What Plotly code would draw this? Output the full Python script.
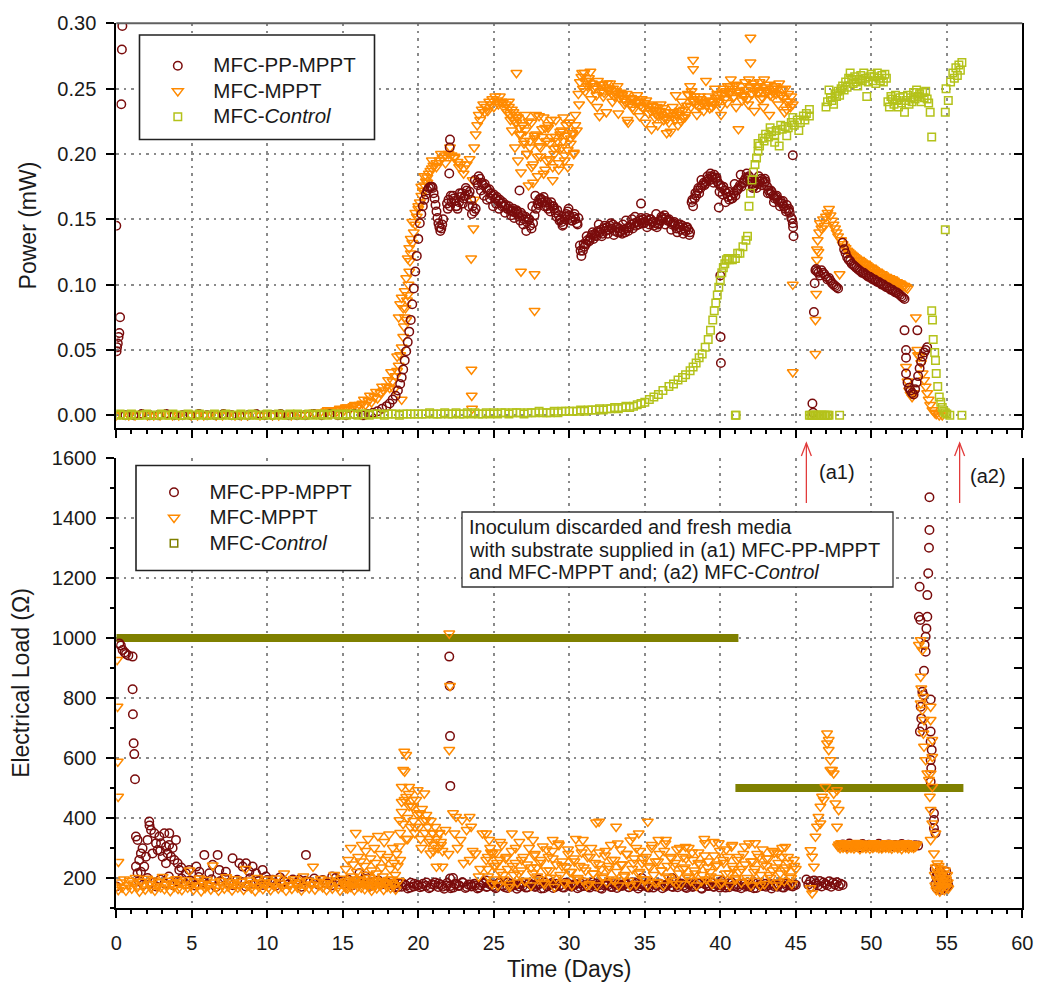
import numpy as np
import plotly.graph_objects as go

FONT = "Liberation Sans, Arial, sans-serif"
W, H = 1040, 985

def seg(t0, t1, vals):
    return list(np.linspace(t0, t1, len(vals)))

# ======================= TOP PANEL : Power (mW) =======================
# ---- MFC-PP-MPPT ----
pp_pow_t_a = [0.0, 0.02, 0.05, 0.10, 0.15, 0.20, 0.25, 0.33, 0.37, 0.40]
pp_pow_a = [0.145, 0.049, 0.052, 0.055, 0.060, 0.063, 0.075, 0.238, 0.280, 0.298]
pp_pow_span_b = (0.6, 16.3)
pp_pow_b = [0.000, 0.000, 0.001, 0.000, 0.000, 0.001, 0.000, 0.000, 0.000, 0.001,
            0.000, 0.000, 0.001, 0.000, 0.000, 0.000, 0.001, 0.000, 0.000, 0.001,
            0.000, 0.000, 0.000, 0.001, 0.000, 0.001, 0.000, 0.000, 0.001, 0.000]
pp_pow_t_c = [16.4, 16.7, 17.0, 17.3, 17.6, 17.9, 18.1, 18.3, 18.5, 18.65, 18.8, 18.9, 19.0, 19.1,
              19.2, 19.3, 19.4, 19.5, 19.6, 19.7, 19.8, 19.9, 20.0, 20.1, 20.2, 20.3, 20.4, 20.5,
              20.6, 20.7, 20.8, 20.9]
pp_pow_c = [0.000, 0.001, 0.002, 0.003, 0.005, 0.007, 0.009, 0.012, 0.015, 0.019, 0.024, 0.029,
            0.035, 0.042, 0.049, 0.056, 0.064, 0.073, 0.085, 0.097, 0.110, 0.122, 0.135, 0.147,
            0.154, 0.160, 0.165, 0.169, 0.172, 0.174, 0.175, 0.175]
pp_pow_span_d = (20.95, 21.65)
pp_pow_d = [0.174, 0.170, 0.166, 0.161, 0.156, 0.151, 0.147, 0.144, 0.141, 0.143, 0.146, 0.150]
pp_pow_span_f = (21.9, 30.6)
pp_pow_f = [0.162, 0.165, 0.160, 0.163, 0.168, 0.164, 0.160, 0.158, 0.163, 0.167,
            0.170, 0.166, 0.168, 0.172, 0.169, 0.171, 0.165, 0.160, 0.156, 0.158,
            0.178, 0.183, 0.181, 0.178, 0.176, 0.177, 0.174, 0.172, 0.173, 0.170,
            0.168, 0.169, 0.166, 0.167, 0.164, 0.165, 0.162, 0.163, 0.160, 0.161,
            0.158, 0.160, 0.157, 0.156, 0.158, 0.155, 0.157, 0.154, 0.152, 0.155,
            0.153, 0.150, 0.152, 0.148, 0.150, 0.145, 0.143, 0.147, 0.153, 0.158,
            0.162, 0.165, 0.166, 0.163, 0.167, 0.164, 0.160, 0.158, 0.161, 0.163,
            0.160, 0.158, 0.155, 0.157, 0.153, 0.150, 0.148, 0.146, 0.150, 0.154,
            0.156, 0.153, 0.151, 0.149, 0.152, 0.150, 0.147, 0.151]
pp_pow_span_f2 = (21.95, 30.55)
pp_pow_f2 = [0.158, 0.168, 0.166, 0.160, 0.170, 0.162, 0.174, 0.160, 0.154, 0.180,
             0.176, 0.172, 0.168, 0.165, 0.166, 0.160, 0.162, 0.158, 0.160, 0.155,
             0.158, 0.153, 0.151, 0.156, 0.149, 0.146, 0.141, 0.150, 0.160, 0.168,
             0.161, 0.165, 0.160, 0.163, 0.156, 0.160, 0.152, 0.149, 0.145, 0.152,
             0.158, 0.149, 0.154, 0.146]
pp_pow_span_g = (30.7, 38.0)
pp_pow_g = [0.130, 0.122, 0.126, 0.129, 0.131, 0.134, 0.133, 0.136, 0.138, 0.135,
            0.139, 0.137, 0.141, 0.140, 0.142, 0.139, 0.143, 0.141, 0.144, 0.142,
            0.145, 0.143, 0.146, 0.141, 0.144, 0.140, 0.143, 0.141, 0.139, 0.142,
            0.140, 0.143, 0.141, 0.144, 0.146, 0.143, 0.147, 0.145, 0.148, 0.146,
            0.149, 0.147, 0.150, 0.148, 0.151, 0.149, 0.146, 0.150, 0.148, 0.145,
            0.147, 0.144, 0.146, 0.149, 0.152, 0.150, 0.153, 0.151, 0.149, 0.150,
            0.148, 0.146, 0.147, 0.145, 0.143, 0.146, 0.144, 0.142, 0.145, 0.143,
            0.141, 0.144, 0.142, 0.140]
pp_pow_span_g2 = (30.75, 37.95)
pp_pow_g2 = [0.126, 0.131, 0.137, 0.134, 0.140, 0.138, 0.146, 0.137, 0.145, 0.139,
             0.147, 0.138, 0.144, 0.140, 0.146, 0.149, 0.144, 0.150, 0.152, 0.146,
             0.151, 0.147, 0.144, 0.150, 0.148, 0.154, 0.147, 0.151, 0.146, 0.149,
             0.142, 0.148, 0.140, 0.146, 0.139, 0.144, 0.138]
pp_pow_span_h = (38.1, 44.8)
pp_pow_h = [0.163, 0.160, 0.166, 0.168, 0.172, 0.170, 0.174, 0.176, 0.178, 0.177,
            0.179, 0.181, 0.180, 0.183, 0.182, 0.184, 0.181, 0.179, 0.177, 0.176,
            0.174, 0.175, 0.172, 0.170, 0.167, 0.165, 0.168, 0.166, 0.170, 0.168,
            0.172, 0.174, 0.176, 0.175, 0.178, 0.180, 0.182, 0.181, 0.183, 0.180,
            0.177, 0.175, 0.176, 0.174, 0.177, 0.179, 0.181, 0.180, 0.178, 0.179,
            0.175, 0.172, 0.170, 0.171, 0.168, 0.166, 0.167, 0.165, 0.163, 0.164,
            0.162, 0.160, 0.158, 0.161, 0.157, 0.155, 0.151, 0.147]
pp_pow_span_h2 = (38.15, 44.75)
pp_pow_h2 = [0.165, 0.170, 0.174, 0.180, 0.176, 0.183, 0.185, 0.178, 0.182, 0.171,
             0.169, 0.163, 0.171, 0.166, 0.177, 0.173, 0.184, 0.178, 0.185, 0.180,
             0.174, 0.178, 0.183, 0.176, 0.181, 0.170, 0.172, 0.163, 0.168, 0.160,
             0.164, 0.156, 0.158, 0.150]
pp_pow_t_e = [22.05, 22.08, 22.10, 26.7, 34.75, 39.9, 40.0, 40.02, 40.04, 44.8, 44.82, 44.85]
pp_pow_e = [0.185, 0.205, 0.211, 0.172, 0.162, 0.159, 0.107, 0.060, 0.040, 0.199, 0.144, 0.137]
pp_pow_t_i = [46.1, 46.15, 46.2, 46.25, 46.3, 46.35, 46.4, 46.5, 46.6, 46.7, 46.8, 46.9, 47.0,
              47.1, 47.2, 47.3, 47.4, 47.5, 47.6, 47.7, 47.8]
pp_pow_i = [0.009, 0.002, 0.079, 0.101, 0.111, 0.112, 0.110, 0.109, 0.107, 0.111, 0.109, 0.108,
            0.106, 0.104, 0.105, 0.103, 0.101, 0.100, 0.099, 0.098, 0.097]
pp_pow_span_j = (48.1, 52.2)
pp_pow_j = [0.132, 0.127, 0.124, 0.121, 0.119, 0.118, 0.116, 0.115, 0.114, 0.113,
            0.112, 0.111, 0.110, 0.109, 0.109, 0.108, 0.107, 0.106, 0.106, 0.105,
            0.104, 0.104, 0.103, 0.102, 0.102, 0.101, 0.100, 0.100, 0.099, 0.098,
            0.098, 0.097, 0.096, 0.096, 0.095, 0.094, 0.094, 0.093, 0.092, 0.091,
            0.090, 0.089]
pp_pow_t_k = [52.2, 52.3, 52.3, 52.3, 52.4, 52.5, 52.6, 52.7, 52.8, 52.9, 53.0, 53.05, 53.1,
              53.2, 53.3, 53.4, 53.5, 53.6, 53.7]
pp_pow_k = [0.065, 0.050, 0.044, 0.032, 0.025, 0.021, 0.019, 0.017, 0.016, 0.020, 0.025, 0.065,
            0.030, 0.036, 0.041, 0.045, 0.048, 0.050, 0.052]

# ---- MFC-MPPT ----
mp_pow_span_a = (0.0, 12.0)
mp_pow_a = [0.000, 0.001, 0.000, 0.000, 0.001, 0.000, 0.000, 0.000, 0.001, 0.000,
            0.000, 0.001, 0.000, 0.000, 0.000, 0.001, 0.000, 0.000, 0.001, 0.000,
            0.000, 0.000, 0.001, 0.000, 0.001, 0.000, 0.000, 0.001, 0.000, 0.001]
mp_pow_t_b = [12.3, 12.7, 13.1, 13.5, 13.9, 14.2, 14.5, 14.8, 15.1, 15.3, 15.5, 15.7, 15.9, 16.1,
              16.3, 16.5, 16.7, 16.9, 17.1, 17.3, 17.5, 17.7, 17.9, 18.1, 18.3, 18.5, 18.6, 18.7,
              18.8, 18.9, 19.0, 19.05, 19.1, 19.15, 19.2, 19.25, 19.3, 19.35, 19.4, 19.45, 19.5,
              19.6, 19.7, 19.8, 19.9, 20.0, 20.1, 20.2, 20.3, 20.4, 20.5, 20.6, 20.7, 20.8, 20.9,
              21.0, 21.2, 21.4, 21.6, 21.8, 22.0, 22.2, 22.4, 22.6, 22.8, 23.0, 23.2, 23.4]
mp_pow_b = [0.001, 0.001, 0.002, 0.002, 0.003, 0.003, 0.004, 0.005, 0.004, 0.006, 0.005, 0.007,
            0.006, 0.008, 0.009, 0.008, 0.011, 0.010, 0.014, 0.013, 0.017, 0.019, 0.022, 0.021,
            0.026, 0.030, 0.034, 0.038, 0.046, 0.052, 0.060, 0.068, 0.075, 0.082, 0.073, 0.088,
            0.092, 0.100, 0.110, 0.118, 0.124, 0.132, 0.140, 0.146, 0.152, 0.158, 0.163, 0.168,
            0.172, 0.176, 0.179, 0.182, 0.185, 0.187, 0.189, 0.191, 0.193, 0.195, 0.197, 0.199,
            0.200, 0.199, 0.197, 0.194, 0.192, 0.189, 0.192, 0.196]
mp_pow_t_b2 = [14.0, 14.6, 15.2, 15.8, 16.4, 16.8, 17.2, 17.6, 18.0, 18.2, 18.4, 18.6, 18.7, 18.8,
               18.9, 19.0, 19.1, 19.2, 19.3, 19.4, 19.5, 19.6, 19.8, 20.0, 20.2, 20.4, 20.6, 20.9,
               21.2, 21.5, 21.8, 22.1, 22.4, 22.7, 23.0]
mp_pow_b2 = [0.004, 0.003, 0.006, 0.008, 0.012, 0.015, 0.018, 0.022, 0.027, 0.033, 0.020, 0.045,
             0.075, 0.085, 0.090, 0.082, 0.095, 0.105, 0.120, 0.128, 0.135, 0.148, 0.155, 0.160,
             0.175, 0.183, 0.178, 0.195, 0.190, 0.200, 0.193, 0.205, 0.198, 0.190, 0.185]
mp_pow_t_c = [18.9, 23.5, 23.52, 23.54, 23.56, 23.65, 23.7, 26.5, 26.8, 27.7, 27.7, 38.2, 38.2,
              42.0, 42.0, 44.8, 44.8, 47.9]
mp_pow_c = [0.012, 0.120, 0.035, 0.015, 0.005, 0.143, 0.165, 0.262, 0.110, 0.108, 0.080, 0.272,
            0.265, 0.289, 0.270, 0.100, 0.033, 0.108]
mp_pow_span_d = (23.6, 30.5)
mp_pow_d = [0.180, 0.205, 0.215, 0.222, 0.230, 0.226, 0.234, 0.238, 0.232, 0.236,
            0.233, 0.240, 0.238, 0.242, 0.236, 0.244, 0.241, 0.238, 0.244, 0.240,
            0.239, 0.235, 0.238, 0.232, 0.236, 0.230, 0.234, 0.226, 0.230, 0.224,
            0.228, 0.220, 0.215, 0.222, 0.210, 0.218, 0.200, 0.225, 0.205, 0.190,
            0.178, 0.212, 0.215, 0.198, 0.229, 0.205, 0.213, 0.185, 0.220, 0.195,
            0.220, 0.208, 0.226, 0.190, 0.200, 0.213, 0.205, 0.188, 0.215, 0.218,
            0.210, 0.195, 0.222, 0.203, 0.224, 0.212, 0.215, 0.200, 0.222, 0.218]
mp_pow_span_d2 = (26.0, 30.4)
mp_pow_d2 = [0.240, 0.226, 0.218, 0.232, 0.205, 0.228, 0.195, 0.215, 0.186, 0.222,
             0.208, 0.230, 0.200, 0.176, 0.210, 0.224, 0.192, 0.214, 0.230, 0.183,
             0.206, 0.198, 0.219, 0.228, 0.188, 0.210, 0.222, 0.196, 0.213, 0.180,
             0.204, 0.226, 0.210, 0.193, 0.217, 0.205, 0.228, 0.199, 0.214, 0.190,
             0.224, 0.208, 0.216, 0.201, 0.230]
mp_pow_span_e = (30.6, 44.8)
mp_pow_e = [0.246, 0.255, 0.259, 0.250, 0.262, 0.256, 0.252, 0.258, 0.263, 0.254,
            0.250, 0.252, 0.245, 0.256, 0.229, 0.248, 0.253, 0.247, 0.251, 0.254,
            0.249, 0.254, 0.246, 0.250, 0.244, 0.248, 0.252, 0.243, 0.247, 0.245,
            0.242, 0.240, 0.246, 0.224, 0.238, 0.243, 0.236, 0.242, 0.239, 0.245,
            0.240, 0.237, 0.242, 0.235, 0.239, 0.241, 0.236, 0.238, 0.233, 0.237,
            0.234, 0.231, 0.236, 0.229, 0.233, 0.230, 0.235, 0.228, 0.232, 0.227,
            0.224, 0.217, 0.229, 0.232, 0.226, 0.230, 0.222, 0.233, 0.225, 0.228,
            0.234, 0.230, 0.237, 0.245, 0.252, 0.248, 0.240, 0.244, 0.238, 0.242,
            0.236, 0.242, 0.239, 0.233, 0.240, 0.237, 0.244, 0.235, 0.241, 0.240,
            0.238, 0.243, 0.246, 0.240, 0.236, 0.245, 0.250, 0.242, 0.248, 0.252,
            0.246, 0.257, 0.250, 0.244, 0.253, 0.248, 0.219, 0.247, 0.252, 0.245,
            0.244, 0.249, 0.242, 0.257, 0.251, 0.246, 0.254, 0.248, 0.252, 0.247,
            0.255, 0.249, 0.243, 0.257, 0.251, 0.247, 0.253, 0.245, 0.250, 0.247,
            0.252, 0.246, 0.250, 0.254, 0.245, 0.249, 0.243, 0.250, 0.234, 0.246,
            0.240, 0.244, 0.238]
mp_pow_span_e2 = (30.65, 44.65)
mp_pow_e2 = [0.238, 0.262, 0.248, 0.256, 0.242, 0.250, 0.236, 0.253, 0.244, 0.232,
             0.249, 0.240, 0.246, 0.231, 0.244, 0.238, 0.226, 0.242, 0.234, 0.240,
             0.229, 0.236, 0.224, 0.231, 0.219, 0.228, 0.222, 0.238, 0.226, 0.216,
             0.232, 0.236, 0.245, 0.231, 0.240, 0.228, 0.246, 0.236, 0.241, 0.230,
             0.244, 0.238, 0.256, 0.240, 0.236, 0.250, 0.243, 0.230, 0.247, 0.239,
             0.252, 0.243, 0.236, 0.248, 0.241, 0.255, 0.238, 0.246, 0.233, 0.251,
             0.242, 0.236, 0.248, 0.230, 0.244, 0.252, 0.238, 0.245, 0.232, 0.240, 0.236]
mp_pow_t_f = [46.3, 46.3, 46.35, 46.4, 46.4, 46.45, 46.5, 46.55, 46.6, 46.7, 46.8, 46.9, 47.0,
              47.1, 47.2, 47.3, 47.4, 47.5, 47.6, 47.7, 47.8, 48.0, 48.1]
mp_pow_f = [0.047, 0.073, 0.093, 0.119, 0.127, 0.134, 0.125, 0.140, 0.147, 0.143, 0.150, 0.145,
            0.152, 0.155, 0.158, 0.153, 0.149, 0.146, 0.143, 0.140, 0.137, 0.134, 0.131]
mp_pow_span_g = (48.2, 52.4)
mp_pow_g = [0.129, 0.128, 0.126, 0.125, 0.124, 0.123, 0.122, 0.121, 0.120, 0.119,
            0.119, 0.118, 0.117, 0.116, 0.116, 0.115, 0.114, 0.113, 0.113, 0.112,
            0.111, 0.110, 0.110, 0.109, 0.108, 0.108, 0.107, 0.106, 0.106, 0.105,
            0.105, 0.104, 0.104, 0.103, 0.102, 0.102, 0.101, 0.101, 0.100, 0.099,
            0.099, 0.098, 0.097]
mp_pow_t_h = [52.3, 52.4, 52.5, 52.6, 52.7, 52.8, 52.95, 53.05, 53.1, 53.2, 53.3, 53.4, 53.5,
              53.6, 53.7, 53.8, 53.9, 54.05, 54.2, 54.3, 54.5, 54.7]
mp_pow_h = [0.037, 0.026, 0.019, 0.016, 0.014, 0.017, 0.075, 0.050, 0.046, 0.045, 0.040, 0.032,
            0.027, 0.022, 0.017, 0.012, 0.008, 0.004, 0.002, 0.001, 0.000, 0.000]

# ---- MFC-Control ----
ct_pow_span_a = (0.0, 35.0)
ct_pow_a = [0.000, 0.001, 0.000, 0.000, 0.001, 0.000, 0.000, 0.000, 0.001, 0.000,
            0.000, 0.000, 0.001, 0.000, 0.000, 0.001, 0.000, 0.000, 0.000, 0.001,
            0.000, 0.000, 0.001, 0.000, 0.000, 0.000, 0.001, 0.000, 0.000, 0.001,
            0.000, 0.000, 0.000, 0.001, 0.000, 0.000, 0.001, 0.000, 0.000, 0.000,
            0.001, 0.000, 0.000, 0.001, 0.000, 0.000, 0.001, 0.000, 0.001, 0.000,
            0.000, 0.001, 0.000, 0.001, 0.000, 0.001, 0.000, 0.001, 0.001, 0.000,
            0.001, 0.000, 0.001, 0.001, 0.000, 0.001, 0.001, 0.000, 0.001, 0.001,
            0.001, 0.000, 0.001, 0.001, 0.001, 0.000, 0.001, 0.001, 0.001, 0.001,
            0.001, 0.001, 0.001, 0.002, 0.001, 0.001, 0.001, 0.002, 0.001, 0.001,
            0.002, 0.001, 0.001, 0.002, 0.001, 0.002, 0.001, 0.001, 0.002, 0.001,
            0.002, 0.001, 0.002, 0.002, 0.001, 0.002, 0.002, 0.002, 0.001, 0.002,
            0.002, 0.002, 0.003, 0.002, 0.002, 0.002, 0.003, 0.002, 0.003, 0.003,
            0.003, 0.003, 0.003, 0.004, 0.003, 0.004, 0.004, 0.004, 0.005, 0.004,
            0.005, 0.005, 0.006, 0.005, 0.006, 0.007, 0.006, 0.007, 0.008, 0.009,
            0.010]
ct_pow_t_b = [35.3, 35.6, 35.9, 36.2, 36.6, 36.9, 37.2, 37.5, 37.7, 38.0, 38.2, 38.4, 38.6, 38.8,
              39.0, 39.2, 39.35, 39.5, 39.6, 39.7, 39.8, 39.9, 40.0, 40.1, 40.2, 40.3, 40.4, 40.5,
              40.6, 40.8, 41.0, 41.15, 41.3, 41.5, 41.7, 41.8]
ct_pow_b = [0.012, 0.014, 0.016, 0.019, 0.022, 0.024, 0.027, 0.029, 0.031, 0.034, 0.037, 0.040,
            0.044, 0.047, 0.052, 0.058, 0.065, 0.073, 0.080, 0.086, 0.092, 0.098, 0.103, 0.109,
            0.113, 0.116, 0.119, 0.120, 0.119, 0.119, 0.120, 0.124, 0.124, 0.129, 0.134, 0.137]
ct_pow_t_c = [41.0, 41.05, 41.9, 42.0, 42.1, 42.2, 42.3, 42.4, 42.5, 42.6, 42.8, 43.0, 43.2, 43.4,
              43.6, 43.7, 43.9, 44.1, 44.3, 44.5, 44.7, 44.9, 45.1, 45.3, 45.5, 45.7, 45.9,
              42.5, 42.9, 43.3, 43.6, 44.0, 44.4, 44.8, 45.2, 45.6, 45.9]
ct_pow_c = [0.000, 0.000, 0.160, 0.170, 0.180, 0.186, 0.192, 0.197, 0.202, 0.206, 0.212, 0.215,
            0.213, 0.217, 0.214, 0.218, 0.206, 0.219, 0.221, 0.220, 0.224, 0.222, 0.226, 0.224,
            0.229, 0.231, 0.234,
            0.208, 0.210, 0.220, 0.209, 0.222, 0.214, 0.228, 0.218, 0.226, 0.229]
ct_pow_t_d = [45.9, 46.0, 46.1, 46.2, 46.3, 46.4, 46.5, 46.6, 46.7, 46.8, 46.9, 47.0, 47.1, 47.2, 47.9]
ct_pow_d = [0.000, 0.000, 0.000, 0.000, 0.000, 0.000, 0.000, 0.000, 0.000, 0.000, 0.000, 0.000,
            0.000, 0.000, 0.000]
ct_pow_span_e = (47.0, 51.0)
ct_pow_e = [0.236, 0.240, 0.249, 0.243, 0.241, 0.238, 0.246, 0.244, 0.248, 0.245,
            0.250, 0.252, 0.249, 0.255, 0.251, 0.258, 0.262, 0.257, 0.254, 0.259,
            0.255, 0.252, 0.257, 0.260, 0.256, 0.262, 0.258, 0.244, 0.255, 0.259,
            0.261, 0.256, 0.259, 0.254, 0.262, 0.258, 0.256, 0.260, 0.255, 0.261,
            0.258]
ct_pow_span_f = (51.1, 54.0)
ct_pow_f = [0.240, 0.236, 0.244, 0.242, 0.238, 0.245, 0.241, 0.236, 0.243, 0.239,
            0.244, 0.232, 0.241, 0.245, 0.238, 0.243, 0.240, 0.247, 0.242, 0.249,
            0.244, 0.246, 0.240, 0.247, 0.243, 0.248, 0.242, 0.239, 0.232, 0.213]
ct_pow_t_g = [54.0, 54.05, 54.1, 54.2, 54.25, 54.3, 54.4, 54.5, 54.6, 54.7, 54.8, 54.9, 55.0,
              55.2, 56.0, 54.9, 54.9, 54.95, 55.1, 55.25, 55.4, 55.5, 55.6, 55.7, 55.8, 55.9, 56.0]
ct_pow_g = [0.080, 0.073, 0.058, 0.048, 0.042, 0.032, 0.022, 0.014, 0.010, 0.006, 0.003, 0.002,
            0.001, 0.000, 0.000, 0.142, 0.232, 0.250, 0.241, 0.255, 0.262, 0.258, 0.266, 0.260,
            0.268, 0.264, 0.270]

# ======================= BOTTOM PANEL : Electrical Load (Ohm) =======================
# ---- MFC-Control (constant loads) ----
ct_load_start = [0.0, 41.0]
ct_load_end = [41.2, 56.1]
ct_load_val = [1000, 500]

# ---- MFC-PP-MPPT ----
pp_load_t_a = [0.0, 0.2, 0.3, 0.42, 0.55, 0.64, 0.8, 1.08, 1.08, 1.1, 1.15, 1.19, 1.24]
pp_load_a = [172, 982, 975, 960, 952, 947, 942, 938, 829, 746, 649, 613, 529]
pp_load_t_b = [1.3, 1.41, 1.74, 1.52, 1.85, 2.18, 2.3, 2.4, 2.63, 2.85, 3.29, 3.51, 3.73, 3.95,
               3.84, 3.29, 4.17, 4.61, 1.63, 1.96, 2.07, 2.52, 2.74, 2.96, 3.07, 3.4, 3.62, 3.18,
               4.06, 1.3, 1.41, 1.63, 2.2, 2.9, 3.5, 4.3]
pp_load_b = [338, 327, 299, 260, 238, 388, 360, 282, 316, 338, 304, 349, 300, 327, 260, 249, 227,
             216, 282, 271, 327, 349, 293, 316, 271, 282, 271, 349, 249, 238, 216, 221, 375, 290,
             310, 235]
pp_load_t_c = [4.83, 5.3, 5.5, 5.83, 6.16, 6.38, 6.71, 6.82, 7.26, 7.7, 8.15, 8.37, 8.59, 8.81,
               9.03, 9.25, 9.69, 9.91, 10.35, 12.12, 12.56, 14.3, 16.1, 16.5]
pp_load_c = [227, 238, 221, 277, 216, 244, 277, 227, 221, 266, 249, 238, 249, 221, 238, 216, 227,
             205, 194, 194, 277, 205, 216, 205]
pp_load_span_d = (1.5, 18.2)
pp_load_d = [190, 178, 200, 185, 172, 195, 182, 205, 176, 188,
             198, 180, 192, 175, 203, 186, 179, 196, 170, 189,
             201, 183, 176, 194, 187, 172, 199, 181, 190, 177,
             193, 185, 174, 202, 188, 179, 195, 183, 171, 191,
             186, 198, 178, 193, 182, 175, 200, 188, 180, 194,
             176, 190, 184, 197, 173, 187, 192, 179, 185, 181]
pp_load_span_e = (18.3, 45.0)
pp_load_e = [175, 168, 182, 171, 178, 165, 184, 172, 176, 169,
             181, 174, 166, 179, 185, 170, 177, 164, 183, 173,
             168, 180, 175, 186, 167, 178, 172, 181, 165, 176,
             184, 170, 179, 173, 166, 182, 175, 169, 185, 171,
             177, 164, 180, 174, 168, 183, 176, 170, 179, 165,
             186, 172, 178, 167, 181, 174, 169, 184, 176, 171,
             179, 166, 182, 173, 177, 168, 185, 172, 175, 164,
             180, 176, 170, 183, 167, 178, 174, 181, 169, 186,
             173, 165, 179, 175, 171, 184, 168, 177, 182, 166,
             176, 180, 172, 185, 169, 178, 174, 167, 183, 170,
             177, 181, 164, 179, 173, 186, 171, 176, 168, 182,
             175, 169, 184, 172, 178, 166, 180, 174, 170, 185,
             167, 177, 173, 181, 176, 165, 179, 171, 183, 168,
             175, 180, 172, 177]
pp_load_span_e2 = (18.4, 44.9)
pp_load_e2 = [178, 170, 183, 174, 168, 181, 176, 172, 185, 169,
              177, 182, 171, 175, 166, 180, 173, 184, 170, 178,
              175, 168, 182, 172, 179, 170, 185, 174, 167, 181,
              176, 171, 184, 169, 178, 173, 180, 166, 177, 183,
              171, 176, 168, 182, 174, 179, 170, 185, 172, 177,
              181, 167, 175, 184, 170, 178, 173, 180, 169, 176,
              183, 172, 177, 168, 181, 174, 179, 171, 185, 170,
              176, 182, 169, 178, 173, 184, 167, 180, 175, 171,
              179, 174, 168, 183, 176, 170, 181, 172, 178, 166,
              184, 175, 171, 180, 173, 177, 169, 182, 174, 178]
pp_load_t_f = [22.05, 22.08, 22.1, 22.12, 22.1, 22.3, 24.5, 28.0, 34.8, 36.8, 40.1]
pp_load_f = [938, 840, 673, 507, 198, 200, 192, 195, 200, 200, 190]
pp_load_span_g = (45.7, 48.1)
pp_load_g = [195, 178, 188, 170, 192, 182, 175, 190, 172, 185, 180, 176, 189, 171, 184, 178,
             186, 173, 181, 177]
pp_load_span_h = (47.9, 53.1)
pp_load_h = [308, 312, 304, 315, 306, 310, 302, 313, 307, 311, 305, 309, 314, 303, 308, 312,
             306, 310, 304, 313, 307, 311, 305, 309, 308]
pp_load_t_i = [53.85, 53.85, 53.82, 53.77, 53.2, 53.71, 53.15, 53.71, 53.25, 53.65, 53.6, 53.53,
               53.6, 53.49, 53.38, 53.45, 53.93, 53.27, 53.31, 53.38, 53.22, 53.93, 53.93, 54.0,
               53.93, 53.97, 53.93, 54.15, 54.15, 54.15, 54.25]
pp_load_i = [1469, 1360, 1301, 1216, 1171, 1143, 1071, 1071, 1060, 1032, 1004, 977, 954, 891,
             821, 810, 795, 771, 732, 704, 688, 688, 654, 627, 593, 566, 521, 416, 393, 366, 349]
pp_load_span_j = (54.2, 55.1)
pp_load_j = [230, 180, 205, 165, 215, 190, 172, 225, 185, 160, 200, 178, 210, 168, 195, 182,
             222, 170, 188, 175]

# ---- MFC-MPPT ----
mp_load_t_a = [0.05, 0.08, 0.10, 0.12, 0.14]
mp_load_a = [927, 771, 588, 471, 254]
mp_load_span_b = (0.0, 15.2)
mp_load_b = [172, 160, 185, 168, 195, 158, 176, 190, 165, 182, 200, 170, 155, 188, 175, 162, 198, 180, 166, 192,
             158, 174, 186, 169, 204, 163, 178, 191, 157, 183, 171, 196, 164, 187, 160, 179, 193, 168, 225, 175,
             161, 189, 173, 199, 156, 181, 167, 194, 176, 162, 242, 185, 170, 158, 190, 177, 165, 203, 172, 186,
             159, 180, 196, 168, 175, 188, 161, 230, 174, 192, 166, 183, 157, 200, 171, 185, 163, 178, 195, 169,
             160, 187, 174, 199, 165, 182, 171, 215, 158, 190, 176, 164, 196, 181, 168, 186, 159, 205, 173, 191,
             166, 179, 238, 162, 188, 175, 197, 169, 183, 160, 192, 177, 165, 210, 186, 171, 158, 198, 180, 167]
mp_load_span_c = (15.2, 18.8)
mp_load_c = [230, 190, 260, 175, 300, 205, 245, 185, 350, 220, 270, 195, 255, 310, 180, 240, 290, 210, 330, 200,
             265, 225, 175, 300, 250, 215, 340, 190, 280, 235, 205, 320, 260, 185, 270, 345, 230, 195, 300, 250,
             210, 280, 240, 190, 260]
mp_load_span_c2 = (15.2, 18.5)
mp_load_c2 = [175, 165, 190, 170, 185, 160, 195, 172, 182, 168, 190, 163, 178, 187, 170, 158, 192, 176, 166, 184,
              174, 189, 161, 180, 171, 194, 167, 183, 176, 162]
mp_load_t_d = [18.75, 18.75, 18.9, 19.07, 19.1, 19.2, 19.4, 19.6, 19.96, 20.1, 20.4, 20.5, 20.95, 21.4,
               21.8, 22.5, 22.9, 23.4, 23.8, 24.25, 24.7, 25.4, 18.9, 19.0, 19.2, 19.4, 19.6, 20.1,
               20.8, 21.2, 21.6, 22.3, 22.4, 22.8, 23.2, 23.5, 23.4, 24.0, 24.5, 24.9, 22.05, 22.05,
               22.1, 19.3, 19.8, 20.2, 20.7, 21.0, 21.5, 22.0, 22.6, 23.0, 23.6, 24.1, 24.6, 25.1]
mp_load_d = [393, 305, 504, 621, 555, 470, 504, 438, 493, 416, 482, 393, 349, 349, 360, 404, 393, 404,
             282, 349, 327, 260, 454, 560, 610, 440, 460, 416, 282, 238, 238, 416, 349, 327, 360, 371,
             260, 205, 349, 282, 1015, 627, 840, 330, 370, 300, 320, 290, 310, 280, 300, 250, 290, 230,
             270, 240]
mp_load_span_d2 = (18.8, 21.6)
mp_load_d2 = [350, 420, 380, 460, 330, 400, 480, 370, 440, 390, 350, 460, 410, 370, 330, 430, 390, 350,
              410, 370, 330, 390, 350, 310, 370, 330, 300, 350, 320, 290]
mp_load_span_e = (24.5, 45.0)
mp_load_e = [260, 205, 300, 180, 240, 285, 175, 220, 310, 195, 265, 230, 170, 290, 210, 250, 185, 320, 225, 270,
             190, 245, 300, 175, 215, 280, 235, 195, 260, 305, 180, 225, 270, 200, 290, 170, 245, 315, 210, 255,
             185, 235, 295, 220, 175, 265, 330, 200, 240, 285, 190, 225, 270, 180, 300, 215, 250, 175, 285, 230,
             205, 275, 185, 240, 310, 195, 260, 220, 175, 295, 245, 205, 280, 190, 325, 230, 265, 180, 215, 290,
             250, 195, 270, 175, 235, 300, 210, 255, 185, 280, 225, 175, 315, 240, 200, 265, 190, 250, 295, 215,
             180, 270, 235, 205, 300, 190, 260, 225, 175, 285, 245, 210, 330, 195, 255, 220, 180, 275, 240, 200,
             290, 185, 250, 215, 270, 175, 305, 230, 195, 260, 220, 185, 280, 245, 200, 315, 175, 255, 230, 190,
             270, 210, 295, 180, 240, 265, 200, 225, 285, 175, 250, 215, 300, 190, 235, 270, 205, 180, 260, 230]
mp_load_span_e2 = (24.6, 44.9)
mp_load_e2 = [230, 285, 195, 250, 320, 210, 270, 180, 240, 300,
              215, 260, 190, 345, 235, 275, 205, 250, 185, 295,
              225, 265, 200, 310, 240, 180, 280, 220, 255, 195,
              300, 235, 175, 270, 215, 385, 245, 200, 290, 230,
              260, 190, 315, 245, 210, 280, 175, 250, 300, 220,
              265, 195, 240, 310, 185, 255, 225, 290, 205, 270,
              240, 180, 300, 230, 265, 200, 285, 215, 250, 190,
              275, 235, 205, 320, 245, 180, 260, 295, 215, 240,
              200, 270, 230, 305, 190, 255, 220, 280, 175, 245,
              265, 210, 290, 235, 185, 270, 225, 250, 200, 240]
mp_load_t_f = [26.2, 27.6, 28.9, 30.9, 31.97, 33.1, 34.2, 34.6, 35.2, 35.9, 36.4, 37.7, 39.0, 39.9,
               40.8, 42.3, 43.8, 44.3]
mp_load_f = [349, 327, 327, 327, 388, 371, 338, 349, 388, 327, 327, 304, 316, 316, 310, 316, 282, 304]
mp_load_t_g = [45.97, 46.08, 46.2, 45.97, 46.08, 46.3, 46.4, 46.5, 46.63, 46.74, 46.96, 46.85, 46.63,
               47.07, 47.07, 47.18, 47.29, 47.4, 47.51, 47.51, 47.62, 47.73, 47.84, 47.73, 47.29, 47.18]
mp_load_g = [293, 271, 238, 166, 149, 338, 371, 404, 438, 471, 504, 460, 382, 682, 649, 627, 593, 560,
             549, 482, 449, 371, 427, 493, 560, 660]
mp_load_span_h = (47.8, 53.0)
mp_load_h = [305, 312, 300, 316, 308, 302, 314, 306, 310, 298, 315, 304, 309, 301, 313, 307, 299, 311, 305, 317,
             303, 310, 297, 314, 306, 302, 312, 308, 300, 315, 304, 309, 298, 313, 307, 301, 316, 305, 311, 303,
             308, 300, 314, 306, 299, 312, 304, 310, 302, 316, 307, 301, 311, 305, 298, 313, 309, 303, 315, 306,
             300, 312, 304, 308, 297, 314, 306, 310, 302, 316, 305, 299, 311, 307, 303, 313, 301, 309, 305, 312]
mp_load_t_i = [53.27, 53.15, 53.27, 53.27, 53.38, 53.49, 53.45, 53.49, 53.6, 53.71, 53.82, 53.88, 53.93,
               54.04, 53.93, 54.15, 54.25, 54.37, 53.93, 53.93, 54.04, 54.04, 53.93, 54.04, 53.38, 53.31, 53.45]
mp_load_i = [993, 977, 871, 782, 760, 727, 682, 638, 593, 549, 527, 471, 427, 382, 327, 282, 349, 249,
             727, 771, 660, 604, 549, 504, 960, 832, 804]
mp_load_span_j = (54.2, 55.1)
mp_load_j = [210, 175, 235, 160, 195, 220, 170, 240, 185, 155, 205, 230, 165, 190, 215, 175, 200, 160,
             225, 180, 195, 170, 210, 185, 165]

# ======================= assemble series =======================
pp_pow_t = (pp_pow_t_a + seg(*pp_pow_span_b, pp_pow_b) + pp_pow_t_c + seg(*pp_pow_span_d, pp_pow_d)
            + seg(*pp_pow_span_f, pp_pow_f) + seg(*pp_pow_span_f2, pp_pow_f2)
            + seg(*pp_pow_span_g, pp_pow_g) + seg(*pp_pow_span_g2, pp_pow_g2)
            + seg(*pp_pow_span_h, pp_pow_h) + seg(*pp_pow_span_h2, pp_pow_h2)
            + pp_pow_t_e + pp_pow_t_i + seg(*pp_pow_span_j, pp_pow_j) + pp_pow_t_k)
pp_pow = (pp_pow_a + pp_pow_b + pp_pow_c + pp_pow_d + pp_pow_f + pp_pow_f2 + pp_pow_g + pp_pow_g2
          + pp_pow_h + pp_pow_h2 + pp_pow_e + pp_pow_i + pp_pow_j + pp_pow_k)

mp_pow_t = (seg(*mp_pow_span_a, mp_pow_a) + mp_pow_t_b + mp_pow_t_b2 + mp_pow_t_c
            + seg(*mp_pow_span_d, mp_pow_d) + seg(*mp_pow_span_d2, mp_pow_d2)
            + seg(*mp_pow_span_e, mp_pow_e) + seg(*mp_pow_span_e2, mp_pow_e2)
            + mp_pow_t_f + seg(*mp_pow_span_g, mp_pow_g) + mp_pow_t_h)
mp_pow = (mp_pow_a + mp_pow_b + mp_pow_b2 + mp_pow_c + mp_pow_d + mp_pow_d2 + mp_pow_e + mp_pow_e2
          + mp_pow_f + mp_pow_g + mp_pow_h)

ct_pow_t = (seg(*ct_pow_span_a, ct_pow_a) + ct_pow_t_b + ct_pow_t_c + ct_pow_t_d
            + seg(*ct_pow_span_e, ct_pow_e) + seg(*ct_pow_span_f, ct_pow_f) + ct_pow_t_g)
ct_pow = ct_pow_a + ct_pow_b + ct_pow_c + ct_pow_d + ct_pow_e + ct_pow_f + ct_pow_g

pp_load_t = (pp_load_t_a + pp_load_t_b + pp_load_t_c + seg(*pp_load_span_d, pp_load_d)
             + seg(*pp_load_span_e, pp_load_e) + seg(*pp_load_span_e2, pp_load_e2) + pp_load_t_f
             + seg(*pp_load_span_g, pp_load_g) + seg(*pp_load_span_h, pp_load_h) + pp_load_t_i
             + seg(*pp_load_span_j, pp_load_j))
pp_load = (pp_load_a + pp_load_b + pp_load_c + pp_load_d + pp_load_e + pp_load_e2 + pp_load_f
           + pp_load_g + pp_load_h + pp_load_i + pp_load_j)

mp_load_t = (mp_load_t_a + seg(*mp_load_span_b, mp_load_b) + seg(*mp_load_span_c, mp_load_c)
             + seg(*mp_load_span_c2, mp_load_c2) + mp_load_t_d + seg(*mp_load_span_d2, mp_load_d2)
             + seg(*mp_load_span_e, mp_load_e) + seg(*mp_load_span_e2, mp_load_e2) + mp_load_t_f
             + mp_load_t_g + seg(*mp_load_span_h, mp_load_h) + mp_load_t_i
             + seg(*mp_load_span_j, mp_load_j))
mp_load = (mp_load_a + mp_load_b + mp_load_c + mp_load_c2 + mp_load_d + mp_load_d2 + mp_load_e
           + mp_load_e2 + mp_load_f + mp_load_g + mp_load_h + mp_load_i + mp_load_j)

# ======================= styling =======================
C_PP = "#7a0c0c"
C_MP = "#ff8a00"
C_CT = "#b4c21a"
C_CT2 = "#7f8000"
LEG_SPAN = '<span style="font-size:20.5px">{}</span>'

def px_x(p):
    return p / W

def px_y(p):
    return 1 - p / H

XD = [px_x(116.3), px_x(1022.3)]
YD_TOP = [px_y(427.7), px_y(23.3)]
YD_BOT = [px_y(908.0), px_y(458.0)]
Y_TOP_RANGE = [-0.0095, 0.30]
Y_BOT_RANGE = [100, 1600]

fig = go.Figure()

MK_PP = dict(symbol="circle-open", size=8.5, color=C_PP, line=dict(width=1.5, color=C_PP))
MK_MP = dict(symbol="triangle-down-open", size=9.5, color=C_MP, line=dict(width=1.5, color=C_MP))

# top panel traces
fig.add_trace(go.Scatter(x=mp_pow_t, y=mp_pow, mode="markers", name=LEG_SPAN.format("MFC-MPPT"),
                         legend="legend", legendrank=2, xaxis="x", yaxis="y", marker=MK_MP))
fig.add_trace(go.Scatter(x=pp_pow_t, y=pp_pow, mode="markers", name=LEG_SPAN.format("MFC-PP-MPPT"),
                         legend="legend", legendrank=1, xaxis="x", yaxis="y", marker=MK_PP))
fig.add_trace(go.Scatter(x=ct_pow_t, y=ct_pow, mode="markers",
                         name=LEG_SPAN.format("MFC-<i>Control</i>"),
                         legend="legend", legendrank=3, xaxis="x", yaxis="y",
                         marker=dict(symbol="square-open", size=7.5, color=C_CT,
                                     line=dict(width=1.5, color=C_CT))))

# bottom panel traces
for s, e, v in zip(ct_load_start, ct_load_end, ct_load_val):
    fig.add_trace(go.Scatter(x=[s, e], y=[v, v], mode="lines", showlegend=False,
                             xaxis="x2", yaxis="y2", line=dict(color=C_CT2, width=8)))
fig.add_trace(go.Scatter(x=pp_load_t, y=pp_load, mode="markers", name=LEG_SPAN.format("MFC-PP-MPPT"),
                         legend="legend2", legendrank=1, xaxis="x2", yaxis="y2", marker=MK_PP))
fig.add_trace(go.Scatter(x=mp_load_t, y=mp_load, mode="markers", name=LEG_SPAN.format("MFC-MPPT"),
                         legend="legend2", legendrank=2, xaxis="x2", yaxis="y2", marker=MK_MP))
fig.add_trace(go.Scatter(x=[None], y=[None], mode="markers",
                         name=LEG_SPAN.format("MFC-<i>Control</i>"),
                         legend="legend2", legendrank=3, xaxis="x2", yaxis="y2",
                         marker=dict(symbol="square-open", size=7.5, color=C_CT2,
                                     line=dict(width=1.5, color=C_CT2))))
# helpers so the right-hand tick axes are drawn
fig.add_trace(go.Scatter(x=[None], y=[None], xaxis="x", yaxis="y3", showlegend=False, hoverinfo="skip"))
fig.add_trace(go.Scatter(x=[None], y=[None], xaxis="x2", yaxis="y4", showlegend=False, hoverinfo="skip"))

tickfont = dict(family=FONT, size=20, color="#1a1a1a")
titlefont = dict(family=FONT, size=23, color="#1a1a1a")
grid = dict(showgrid=True, gridcolor="#8a8a8a", griddash="2.5px,5px", gridwidth=2.2)
line = dict(showline=True, linecolor="black", linewidth=2, zeroline=False, automargin=False)
majt = dict(ticks="outside", ticklen=8, tickwidth=1.5, tickcolor="black")

fig.update_layout(
    width=W, height=H, margin=dict(l=0, r=0, t=0, b=0, autoexpand=False),
    paper_bgcolor="white", plot_bgcolor="white",
    font=dict(family=FONT, size=20, color="#1a1a1a"),
    xaxis=dict(domain=XD, anchor="y", range=[0, 60], dtick=5, tick0=0, showticklabels=False,
               minor=dict(dtick=1, ticks="outside", ticklen=4, tickwidth=1.5, tickcolor="black",
                          showgrid=False),
               **grid, **line, **majt),
    yaxis=dict(domain=YD_TOP, anchor="x", range=Y_TOP_RANGE, dtick=0.05, tick0=0,
               tickformat=".2f", tickfont=tickfont, ticklabelstandoff=6,
               title=dict(text="Power (mW)", font=titlefont, standoff=14),
               **grid, **line, **majt),
    yaxis3=dict(overlaying="y", anchor="x", side="right", range=Y_TOP_RANGE, dtick=0.05, tick0=0,
                showticklabels=False, showgrid=False, ticks="inside", ticklen=8, tickwidth=1.5,
                tickcolor="black", **line),
    xaxis2=dict(domain=XD, anchor="y2", range=[0, 60], dtick=5, tick0=0, tickfont=tickfont,
                ticklabelstandoff=8, ticklabeloverflow="allow",
                title=dict(text="Time (Days)", font=titlefont, standoff=8),
                minor=dict(dtick=1, ticks="outside", ticklen=4, tickwidth=1.5, tickcolor="black",
                           showgrid=False),
                **grid, **line, **majt),
    yaxis2=dict(domain=YD_BOT, anchor="x2", range=Y_BOT_RANGE, dtick=200, tick0=0,
                tickformat="d", tickfont=tickfont, ticklabelstandoff=6,
                title=dict(text="Electrical Load (Ω)", font=titlefont, standoff=16),
                minor=dict(dtick=100, ticks="outside", ticklen=4, tickwidth=1.5, tickcolor="black",
                           showgrid=False),
                **grid, **line, **majt),
    yaxis4=dict(overlaying="y2", anchor="x2", side="right", range=Y_BOT_RANGE, dtick=100, tick0=0,
                showticklabels=False, showgrid=False, ticks="inside", ticklen=8, tickwidth=1.5,
                tickcolor="black", **line),
    legend=dict(x=px_x(142.3), y=px_y(48), xanchor="left", yanchor="top", bgcolor="rgba(0,0,0,0)",
                borderwidth=0, itemwidth=61, font=dict(family=FONT, size=17.3, color="#1a1a1a"),
                traceorder="normal", itemclick=False),
    legend2=dict(x=px_x(138.5), y=px_y(474.5), xanchor="left", yanchor="top", bgcolor="rgba(0,0,0,0)",
                 borderwidth=0, itemwidth=61, font=dict(family=FONT, size=17.3, color="#1a1a1a"),
                 traceorder="normal", itemclick=False),
)

shapes = []
# top border of the top panel (grey)
shapes.append(dict(type="line", xref="paper", yref="paper", x0=XD[0], x1=XD[1], y0=YD_TOP[1],
                   y1=YD_TOP[1], line=dict(color="#606060", width=2)))
# legend boxes
shapes.append(dict(type="rect", xref="paper", yref="paper", x0=px_x(139.5), x1=px_x(374.5),
                   y0=px_y(139.5), y1=px_y(35), line=dict(color="#222", width=1.6),
                   fillcolor="white", layer="above"))
shapes.append(dict(type="rect", xref="paper", yref="paper", x0=px_x(136), x1=px_x(369.5),
                   y0=px_y(570.5), y1=px_y(465.5), line=dict(color="#222", width=1.6),
                   fillcolor="white", layer="above"))
# annotation box
shapes.append(dict(type="rect", xref="paper", yref="paper", x0=px_x(462), x1=px_x(893),
                   y0=px_y(587), y1=px_y(512), line=dict(color="#333", width=1.3),
                   fillcolor="white", layer="above"))

# red arrows (a1), (a2)
ARROW_T = [45.7, 55.85]
ARROW_LABELS = ["(a1)", "(a2)"]
ARROW_LABEL_T = [46.4, 56.4]
ARROW_LABEL_Y = [472, 476]
head_dx = 5 / 15.13
for t in ARROW_T:
    shapes.append(dict(type="line", xref="x2", yref="paper", x0=t, x1=t, y0=px_y(503), y1=px_y(443),
                       line=dict(color="#e23b3b", width=1.3)))
    shapes.append(dict(type="path", xref="x2", yref="paper",
                       path=f"M {t - head_dx},{px_y(456)} L {t},{px_y(443)} L {t + head_dx},{px_y(456)}",
                       line=dict(color="#e23b3b", width=1.3)))
fig.update_layout(shapes=shapes)

annotations = []
note_lines = ["Inoculum discarded and fresh media",
              "with substrate supplied in (a1) MFC-PP-MPPT",
              "and MFC-MPPT and; (a2) MFC-<i>Control</i>"]
note_y = [527, 549.5, 572]
for txt, yy in zip(note_lines, note_y):
    annotations.append(dict(text=txt, xref="paper", yref="paper", x=px_x(467), y=px_y(yy),
                            xanchor="left", yanchor="middle", showarrow=False,
                            font=dict(family=FONT, size=20, color="#1a1a1a")))
for lab, lt, ly in zip(ARROW_LABELS, ARROW_LABEL_T, ARROW_LABEL_Y):
    annotations.append(dict(text=lab, xref="x2", yref="paper", x=lt, y=px_y(ly), xanchor="left",
                            yanchor="middle", showarrow=False,
                            font=dict(family=FONT, size=20, color="#1a1a1a")))
fig.update_layout(annotations=annotations)

fig.write_html("out.html")
